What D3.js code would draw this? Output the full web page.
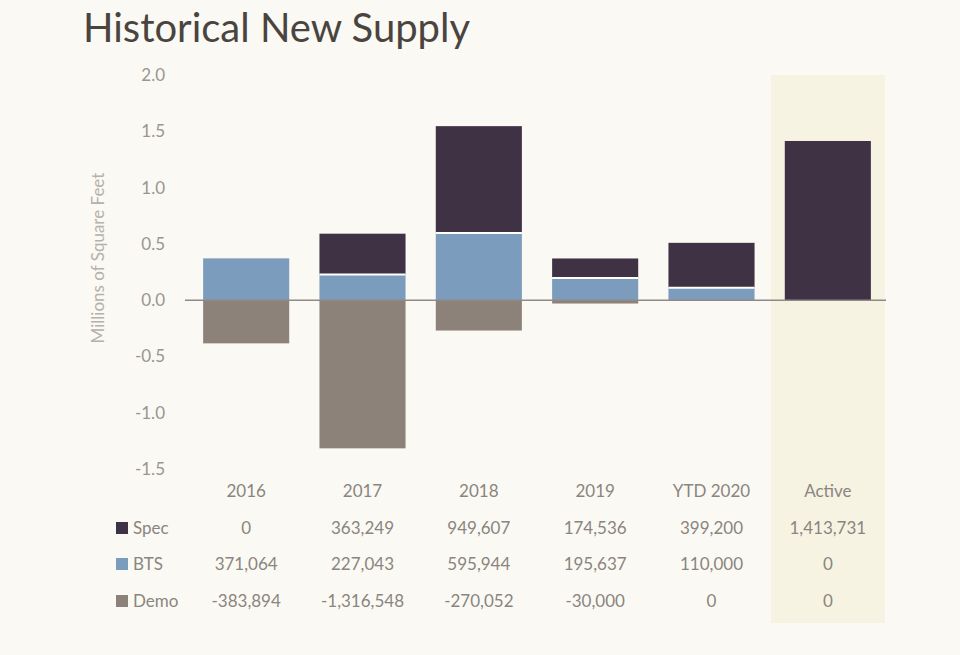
<!DOCTYPE html>
<html><head><meta charset="utf-8">
<script src="https://cdn.jsdelivr.net/npm/d3@7"></script>
<style>body{margin:0;background:#fbf9f3}text{font-family:Lato,"Open Sans",sans-serif}</style>
</head><body><svg id="chart" width="960" height="655"></svg>
<script>
// chart data
var categories = ["2016", "2017", "2018", "2019", "YTD 2020", "Active"];
var spec = [0, 363249, 949607, 174536, 399200, 1413731];
var bts = [371064, 227043, 595944, 195637, 110000, 0];
var demo = [-383894, -1316548, -270052, -30000, 0, 0];
var yTicks = [2.0, 1.5, 1.0, 0.5, 0.0, -0.5, -1.0, -1.5];

var colors = {spec: "#3f3244", bts: "#7b9cbc", demo: "#8c8279"};
var svg = d3.select("#chart");
svg.append("rect").attr("width", 960).attr("height", 655).attr("fill", "#fbf9f3");

var x = d3.scaleBand().domain(categories).range([188, 886]).paddingInner(0.26).paddingOuter(0.13);
var y = d3.scaleLinear().domain([-1.5, 2.0]).range([469, 75]);

// highlight column for Active
var step = x.step();
svg.append("rect").attr("x", x("Active") + x.bandwidth() / 2 - 57).attr("y", 75)
  .attr("width", 114).attr("height", 548).attr("fill", "#f6f3e2");

// title
svg.append("text").attr("x", 83).attr("y", 42).attr("font-size", 40)
  .attr("fill", "#4a4440").text("Historical New Supply");

// y axis labels
svg.selectAll(".yt").data(yTicks).enter().append("text")
  .attr("x", 165).attr("y", d => y(d) + 6).attr("text-anchor", "end")
  .attr("font-size", 17).attr("fill", "#9a9590").text(d => d.toFixed(1));

svg.append("text").attr("transform", "translate(104,258) rotate(-90)")
  .attr("text-anchor", "middle").attr("font-size", 17).attr("fill", "#b5b1ac")
  .text("Millions of Square Feet");

// bars
categories.forEach(function(c, i) {
  var bx = x(c), w = x.bandwidth();
  var b = bts[i] / 1e6, s = spec[i] / 1e6, d = demo[i] / 1e6;
  if (b > 0) svg.append("rect").attr("x", bx).attr("width", w)
    .attr("y", y(b)).attr("height", y(0) - y(b)).attr("fill", colors.bts);
  if (s > 0) svg.append("rect").attr("x", bx).attr("width", w)
    .attr("y", y(b + s)).attr("height", y(b) - y(b + s)).attr("fill", colors.spec);
  if (b > 0 && s > 0) svg.append("line").attr("x1", bx).attr("x2", bx + w)
    .attr("y1", y(b)).attr("y2", y(b)).attr("stroke", "#fff").attr("stroke-width", 2);
  if (d < 0) svg.append("rect").attr("x", bx).attr("width", w)
    .attr("y", y(0)).attr("height", y(d) - y(0)).attr("fill", colors.demo);
});

// zero line
svg.append("line").attr("x1", 185).attr("x2", 886).attr("y1", y(0)).attr("y2", y(0))
  .attr("stroke", "#8f8a85").attr("stroke-width", 1.5);

// table
var cx = c => x(c) + x.bandwidth() / 2;
svg.selectAll(".cat").data(categories).enter().append("text")
  .attr("x", cx).attr("y", 497).attr("text-anchor", "middle")
  .attr("font-size", 17).attr("fill", "#8a8580").text(d => d);

var fmt = d3.format(",");
var rows = [["Spec", spec, colors.spec, 528], ["BTS", bts, colors.bts, 564], ["Demo", demo, colors.demo, 601]];
rows.forEach(function(r) {
  svg.append("rect").attr("x", 116).attr("y", r[3] - 6).attr("width", 12).attr("height", 12).attr("fill", r[2]);
  svg.append("text").attr("x", 133).attr("y", r[3] + 6).attr("font-size", 17)
    .attr("fill", "#8a8580").text(r[0]);
  categories.forEach(function(c, i) {
    svg.append("text").attr("x", cx(c)).attr("y", r[3] + 6).attr("text-anchor", "middle")
      .attr("font-size", 17).attr("fill", "#8a8580").text(fmt(r[1][i]).replace("−", "-"));
  });
});
</script></body></html>
